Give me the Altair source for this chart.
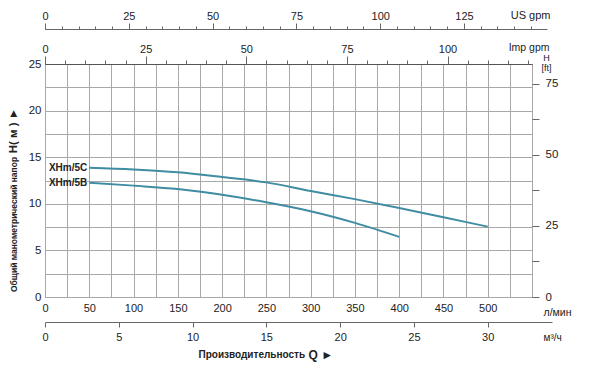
import altair as alt
import pandas as pd

# ---- data ----
models = ["XHm/5C", "XHm/5B"]
q_5c = [50, 100, 150, 200, 250, 300, 350, 400, 450, 500]          # l/min
h_5c = [13.87, 13.68, 13.38, 12.87, 12.30, 11.38, 10.50, 9.55, 8.55, 7.55]  # m
q_5b = [50, 100, 150, 200, 250, 300, 350, 400]
h_5b = [12.27, 11.95, 11.58, 10.97, 10.16, 9.20, 7.95, 6.45]

# axis tick values
lmin_ticks = list(range(0, 551, 25))
m_ticks = [i * 2.5 for i in range(11)]
m3h_ticks = [0, 5, 10, 15, 20, 25, 30]
imp_major = [0, 25, 50, 75, 100]
imp_minor = list(range(0, 121, 5))
us_major = [0, 25, 50, 75, 100, 125]
us_minor = list(range(0, 146, 5))
ft_ticks = [0, 12.5, 25, 37.5, 50, 62.5, 75]

# unit conversions
LMIN_PER_M3H = 16.6667
IMP_PER_LMIN = 0.219969
US_PER_LMIN = 0.264172
FT_PER_M = 3.28084

Q_MAX = 550
H_MAX = 25
W, H = 487, 233
M3H_RANGE = 507
US_RANGE = 502

rows = [{"model": models[0], "q": q, "h": h} for q, h in zip(q_5c, h_5c)] + \
       [{"model": models[1], "q": q, "h": h} for q, h in zip(q_5b, h_5b)]
df = pd.DataFrame(rows)

LINE = "#3f8ca3"
INK = "#222222"
AXC = "#666666"
FONT = "Liberation Sans"

base = alt.Chart(df)
xs = alt.Scale(domain=[0, Q_MAX], nice=False, zero=True)
ys = alt.Scale(domain=[0, H_MAX], nice=False, zero=True)
y_hidden = alt.Y("h:Q", scale=ys, axis=None)
x_hidden = alt.X("q:Q", scale=xs, axis=None)

common = dict(labelFlush=False, labelOverlap=False, grid=False)

lines = base.mark_line(color=LINE, strokeWidth=2, interpolate="monotone").encode(
    x=alt.X("q:Q", scale=xs, axis=alt.Axis(
        orient="bottom", values=lmin_ticks,
        labelExpr="datum.value % 50 == 0 && datum.value <= 500 ? datum.label : ''",
        labelFlush=False, labelOverlap=False,
        grid=True, gridColor="#a8a8a8", gridWidth=1, gridOpacity=1,
        ticks=False, domain=False, labelPadding=5, labelFontSize=11,
        title="л/мин", titleX=498, titleY=15, titleAlign="left",
        titleBaseline="middle", titleFontWeight="normal", titleFontSize=10.5)),
    y=alt.Y("h:Q", scale=ys, axis=alt.Axis(
        orient="left", values=m_ticks,
        labelExpr="datum.value % 5 == 0 ? datum.label : ''",
        labelFlush=False, labelOverlap=False,
        grid=True, gridColor="#a8a8a8", gridWidth=1, gridOpacity=1,
        ticks=False, domain=False, labelPadding=4, labelFontSize=11.5,
        title="Общий манометрический напор", titleAngle=270, titleX=-32, titleY=160,
        titleAlign="center", titleBaseline="middle", titleFontSize=8.5,
        titleFontWeight="bold")),
    detail="model:N",
)

labels = base.transform_filter("datum.q == 50").mark_text(
    align="right", baseline="middle", dx=-2, font=FONT, fontSize=10,
    fontWeight="bold", color=INK,
).encode(x=x_hidden, y=y_hidden, text="model:N")

# m3/h axis (bottom, offset)
m3h = base.transform_calculate(m3h=f"datum.q / {LMIN_PER_M3H}").mark_line(opacity=0).encode(
    x=alt.X("m3h:Q", scale=alt.Scale(domain=[0, Q_MAX / LMIN_PER_M3H * M3H_RANGE / W],
                                      range=[0, M3H_RANGE], nice=False, zero=True),
            axis=alt.Axis(orient="bottom", offset=25, values=m3h_ticks, tickSize=5,
                          tickColor=AXC, domainColor=AXC, labelPadding=4, labelFontSize=11,
                          title="м³/ч", titleX=498, titleY=15, titleAlign="left",
                          titleBaseline="middle", titleFontWeight="normal",
                          titleFontSize=10, **common)),
    y=y_hidden, detail="model:N",
)

# Imp gpm (top)
imp_scale = alt.Scale(domain=[0, Q_MAX * IMP_PER_LMIN], nice=False, zero=True)
imp_a = base.transform_calculate(imp=f"datum.q * {IMP_PER_LMIN}").mark_line(opacity=0).encode(
    x=alt.X("imp:Q", scale=imp_scale,
            axis=alt.Axis(orient="top", values=imp_major, tickSize=8, tickColor=AXC,
                          domainColor="#555555", labelPadding=2, labelFontSize=11,
                          title="Imp gpm", titleX=504, titleY=-17, titleAlign="right",
                          titleBaseline="middle", titleFontWeight="normal",
                          titleFontSize=10.5, **common)),
    y=y_hidden, detail="model:N",
)
imp_b = base.transform_calculate(imp=f"datum.q * {IMP_PER_LMIN}").mark_line(opacity=0).encode(
    x=alt.X("imp:Q", scale=imp_scale,
            axis=alt.Axis(orient="top", values=imp_minor, tickSize=4, tickColor=AXC,
                          domain=False, labels=False, title=None, **common)),
    y=y_hidden, detail="model:N",
)

# US gpm (top, offset)
us_scale = alt.Scale(domain=[0, Q_MAX * US_PER_LMIN * US_RANGE / W],
                     range=[0, US_RANGE], nice=False, zero=True)
us_a = base.transform_calculate(us=f"datum.q * {US_PER_LMIN}").mark_line(opacity=0).encode(
    x=alt.X("us:Q", scale=us_scale,
            axis=alt.Axis(orient="top", offset=35, values=us_major, tickSize=6,
                          tickColor=AXC, domainColor=AXC, labelPadding=2, labelFontSize=11,
                          title="US gpm", titleX=505, titleY=-14, titleAlign="right",
                          titleBaseline="middle", titleFontWeight="normal",
                          titleFontSize=11, **common)),
    y=y_hidden, detail="model:N",
)
us_b = base.transform_calculate(us=f"datum.q * {US_PER_LMIN}").mark_line(opacity=0).encode(
    x=alt.X("us:Q", scale=us_scale,
            axis=alt.Axis(orient="top", offset=35, values=us_minor, tickSize=3,
                          tickColor=AXC, domain=False, labels=False, title=None, **common)),
    y=y_hidden, detail="model:N",
)

# H ft (right)
ft = base.transform_calculate(ft=f"datum.h * {FT_PER_M}").mark_line(opacity=0).encode(
    x=x_hidden,
    y=alt.Y("ft:Q", scale=alt.Scale(domain=[0, H_MAX * FT_PER_M], nice=False, zero=True),
            axis=alt.Axis(orient="right", values=ft_ticks, tickSize=7, tickColor=AXC,
                          domain=False,
                          labelExpr="datum.value % 25 == 0 ? datum.label : ''",
                          labelPadding=6, labelFontSize=11.5,
                          title=["H", "[ft]"], titleAngle=0, titleX=14, titleY=-11,
                          titleAlign="center", titleBaseline="top", titleLineHeight=10,
                          titleFontSize=9, titleFontWeight="normal", **common)),
    detail="model:N",
)

# axis titles only
t_prod = base.mark_line(opacity=0).encode(
    x=alt.X("q:Q", scale=xs, axis=alt.Axis(
        orient="bottom", labels=False, ticks=False, domain=False,
        title="Производительность", titleX=153, titleY=57, titleAlign="left",
        titleBaseline="middle", titleFontSize=10, titleFontWeight="bold", **common)),
    y=y_hidden, detail="model:N",
)
t_q = base.mark_line(opacity=0).encode(
    x=alt.X("q:Q", scale=xs, axis=alt.Axis(
        orient="bottom", labels=False, ticks=False, domain=False,
        title="Q  ►", titleX=263, titleY=57, titleAlign="left",
        titleBaseline="middle", titleFontSize=12, titleFontWeight="bold", **common)),
    y=y_hidden, detail="model:N",
)
t_h = base.mark_line(opacity=0).encode(
    x=x_hidden,
    y=alt.Y("h:Q", scale=ys, axis=alt.Axis(
        orient="left", labels=False, ticks=False, domain=False,
        title="H( м )  ►", titleAngle=270, titleX=-32, titleY=66,
        titleAlign="center", titleBaseline="middle", titleFontSize=11.5,
        titleFontWeight="bold", **common)),
    detail="model:N",
)

chart = alt.layer(
    lines, labels, m3h, imp_a, imp_b, us_a, us_b, ft, t_prod, t_q, t_h
).resolve_scale(
    x="independent", y="independent"
).properties(
    width=W, height=H,
    autosize=alt.AutoSizeParams(type="none"),
    padding={"left": 37, "top": 56, "right": 60, "bottom": 70},
    background="white",
).configure_view(
    stroke="#555555", strokeWidth=1
).configure_axis(
    labelFont=FONT, titleFont=FONT, labelColor=INK, titleColor=INK
)

chart.save("out.html", embed_options={"renderer": "svg", "actions": False})
